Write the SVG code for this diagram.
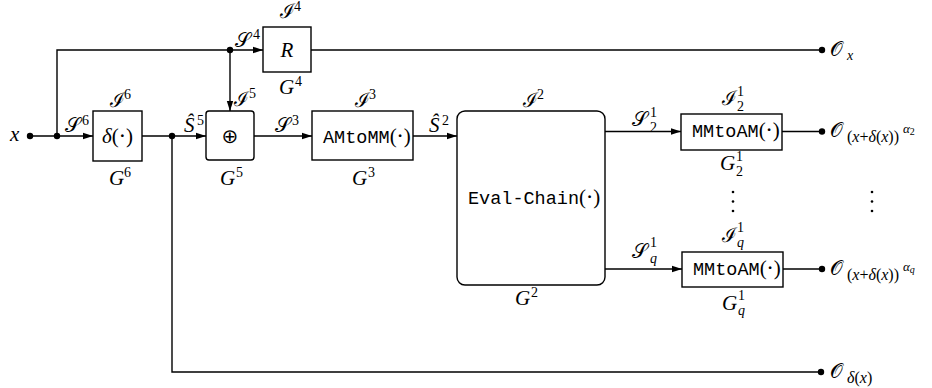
<svg xmlns="http://www.w3.org/2000/svg" width="932" height="388" viewBox="0 0 932 388">
<defs>
<marker id="ah" viewBox="0 0 10 8" refX="10" refY="4" markerWidth="10" markerHeight="8" markerUnits="userSpaceOnUse" orient="auto">
<path d="M0,0.8 L10,4 L0,7.2 Z" fill="#000"/>
</marker>
<style>
.ln{fill:none;stroke:#000;stroke-width:1.4}
.bx{fill:#fff;stroke:#000;stroke-width:1.4}
.dot{fill:#000}
.m{font-family:"Liberation Serif","DejaVu Serif",serif;font-style:italic;font-size:21px;fill:#000}
.cal{font-family:"DejaVu Serif","Liberation Serif",serif;font-style:normal;font-size:20px}
.s{font-style:normal;font-size:14px}
.si{font-style:italic;font-size:14px}
.up{font-style:normal}
.tt{font-family:"Liberation Mono","DejaVu Sans Mono",monospace;font-size:18.5px;font-style:normal;fill:#000}
.ss{font-size:16px}
.sss{font-size:13px}
</style>
</defs>

<g id="connectors">
<path class="ln" d="M30,136 H93" marker-end="url(#ah)"/>
<path class="ln" d="M57,136 V50 H263" marker-end="url(#ah)"/>
<path class="ln" d="M230,50 V111" marker-end="url(#ah)"/>
<path class="ln" d="M311,50 H822"/>
<path class="ln" d="M142,136 H206" marker-end="url(#ah)"/>
<path class="ln" d="M172,136 V372 H821"/>
<path class="ln" d="M254,136 H312" marker-end="url(#ah)"/>
<path class="ln" d="M413,136 H457" marker-end="url(#ah)"/>
<path class="ln" d="M605,131.5 H681" marker-end="url(#ah)"/>
<path class="ln" d="M782,131.5 H822"/>
<path class="ln" d="M605,269 H682" marker-end="url(#ah)"/>
<path class="ln" d="M783,269 H822"/>
<circle class="dot" cx="30" cy="136" r="3.2"/>
<circle class="dot" cx="57" cy="136" r="3.2"/>
<circle class="dot" cx="230" cy="50" r="3.2"/>
<circle class="dot" cx="172" cy="136" r="3.2"/>
<circle class="dot" cx="822" cy="50" r="3.2"/>
<circle class="dot" cx="822" cy="131.5" r="3.2"/>
<circle class="dot" cx="822" cy="269" r="3.2"/>
<circle class="dot" cx="821" cy="372" r="3.2"/>
<text class="m" x="65" y="132"><tspan class="cal">𝒮</tspan><tspan class="s" x="82" y="125">6</tspan></text>
<text class="m" x="184" y="132">Ŝ<tspan class="s" x="197" y="125">5</tspan></text>
<text class="m" x="275" y="132"><tspan class="cal">𝒮</tspan><tspan class="s" x="292" y="125">3</tspan></text>
<text class="m" x="235" y="47"><tspan class="cal">𝒮</tspan><tspan class="s" x="253" y="39">4</tspan></text>
<text class="m" x="429" y="132">Ŝ<tspan class="s" x="442" y="125">2</tspan></text>
<text class="m" x="632" y="126"><tspan class="cal">𝒮</tspan><tspan class="s" x="650" y="117">1</tspan><tspan class="s" x="650" y="132">2</tspan></text>
<text class="m" x="632" y="258"><tspan class="cal">𝒮</tspan><tspan class="s" x="650" y="247">1</tspan><tspan class="si" x="650" y="263">q</tspan></text>
</g>

<g id="input-x">
<text class="m" x="10" y="141">x</text>
</g>

<g id="delta">
<rect class="bx" x="93" y="111" width="49" height="50"/>
<text class="m" x="117.5" y="143" text-anchor="middle">δ<tspan class="up">(⋅)</tspan></text>
<text class="m" x="110" y="107"><tspan class="cal">ℐ</tspan><tspan class="s" x="124" y="99">6</tspan></text>
<text class="m" x="109" y="185">G<tspan class="s" x="124" y="177">6</tspan></text>
</g>

<g id="R">
<rect class="bx" x="263" y="27" width="48" height="45"/>
<text class="m" x="287" y="57" text-anchor="middle">R</text>
<text class="m" x="280" y="18"><tspan class="cal">ℐ</tspan><tspan class="s" x="294" y="11">4</tspan></text>
<text class="m" x="279" y="94">G<tspan class="s" x="295" y="86">4</tspan></text>
</g>

<g id="oplus">
<rect class="bx" x="206" y="111" width="48" height="49" rx="3"/>
<text x="230" y="143" text-anchor="middle" style="font-family:'DejaVu Sans',sans-serif;font-size:20px">⊕</text>
<text class="m" x="234" y="106"><tspan class="cal">ℐ</tspan><tspan class="s" x="249" y="98">5</tspan></text>
<text class="m" x="220" y="185">G<tspan class="s" x="236" y="177">5</tspan></text>
</g>

<g id="AMtoMM">
<rect class="bx" x="312" y="111" width="101" height="49"/>
<text class="tt" x="323" y="143">AMtoMM<tspan class="m up">(⋅)</tspan></text>
<text class="m" x="355" y="107"><tspan class="cal">ℐ</tspan><tspan class="s" x="369" y="99">3</tspan></text>
<text class="m" x="352" y="185">G<tspan class="s" x="368" y="177">3</tspan></text>
</g>

<g id="EvalChain">
<rect class="bx" x="457" y="111" width="148" height="174" rx="8"/>
<text class="tt" x="468" y="204">Eval-Chain<tspan class="m up">(⋅)</tspan></text>
<text class="m" x="523" y="107"><tspan class="cal">ℐ</tspan><tspan class="s" x="537" y="99">2</tspan></text>
<text class="m" x="515" y="305">G<tspan class="s" x="531" y="297">2</tspan></text>
</g>

<g id="MMtoAM-2">
<rect class="bx" x="681" y="114" width="101" height="36"/>
<text class="tt" x="692" y="137">MMtoAM<tspan class="m up">(⋅)</tspan></text>
<text class="m" x="722" y="105"><tspan class="cal">ℐ</tspan><tspan class="s" x="737" y="96">1</tspan><tspan class="s" x="737" y="111">2</tspan></text>
<text class="m" x="720" y="170">G<tspan class="s" x="736" y="161">1</tspan><tspan class="s" x="736" y="176">2</tspan></text>
</g>

<g id="MMtoAM-q">
<rect class="bx" x="682" y="252" width="101" height="35"/>
<text class="tt" x="693" y="275">MMtoAM<tspan class="m up">(⋅)</tspan></text>
<text class="m" x="722" y="242"><tspan class="cal">ℐ</tspan><tspan class="s" x="737" y="232">1</tspan><tspan class="si" x="737" y="247">q</tspan></text>
<text class="m" x="722" y="310">G<tspan class="s" x="738" y="300">1</tspan><tspan class="si" x="738" y="315">q</tspan></text>
</g>

<g id="vdots">
<circle class="dot" cx="733" cy="192" r="1.3"/>
<circle class="dot" cx="733" cy="201.5" r="1.3"/>
<circle class="dot" cx="733" cy="211" r="1.3"/>
<circle class="dot" cx="872" cy="192" r="1.3"/>
<circle class="dot" cx="872" cy="201.5" r="1.3"/>
<circle class="dot" cx="872" cy="211" r="1.3"/>
</g>

<g id="out-x">
<text class="m" x="830" y="56"><tspan class="cal">𝒪</tspan><tspan class="si" x="847" y="60">x</tspan></text>
</g>

<g id="out-2">
<text class="m" x="830" y="137"><tspan class="cal">𝒪</tspan><tspan class="ss" x="847" y="142"><tspan class="up">(</tspan>x<tspan class="up">+</tspan>δ<tspan class="up">(</tspan>x<tspan class="up">))</tspan></tspan><tspan class="sss" x="903" y="133">α</tspan><tspan class="up" style="font-size:10px" dy="2">2</tspan></text>
</g>

<g id="out-q">
<text class="m" x="830" y="275"><tspan class="cal">𝒪</tspan><tspan class="ss" x="847" y="280"><tspan class="up">(</tspan>x<tspan class="up">+</tspan>δ<tspan class="up">(</tspan>x<tspan class="up">))</tspan></tspan><tspan class="sss" x="903" y="271">α</tspan><tspan style="font-size:10px" dy="2">q</tspan></text>
</g>

<g id="out-delta">
<text class="m" x="830" y="378"><tspan class="cal">𝒪</tspan><tspan class="ss" x="847" y="383">δ<tspan class="up">(</tspan>x<tspan class="up">)</tspan></tspan></text>
</g>
</svg>
